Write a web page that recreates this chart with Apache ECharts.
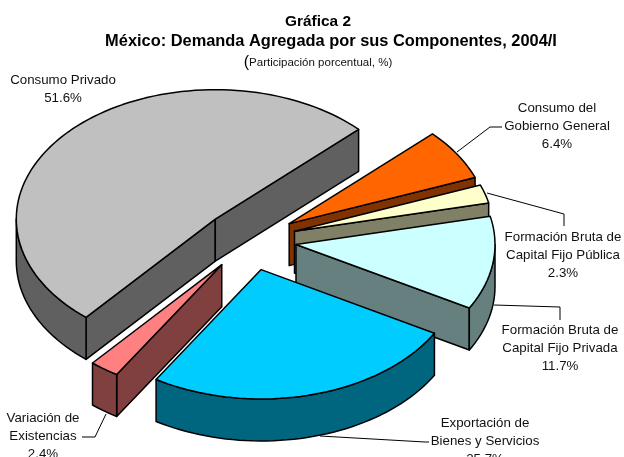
<!DOCTYPE html>
<html>
<head>
<meta charset="utf-8">
<title>Gráfica 2</title>
<style>
  html, body { margin: 0; padding: 0; background: #fff; }
  #main { width: 624px; height: 457px; }
</style>
<script src="https://cdn.jsdelivr.net/npm/echarts@6/dist/echarts.min.js"></script>
</head>
<body>
<div id="main"></div>
<script>
// datos de la grafica
var categories = ['Consumo Privado', 'Consumo del\nGobierno General', 'Formación Bruta de\nCapital Fijo Pública',
  'Formación Bruta de\nCapital Fijo Privada', 'Exportación de\nBienes y Servicios', 'Variación de\nExistencias'];
var values = [51.6, 6.4, 2.3, 11.7, 25.7, 2.4];
var topColors = ['#C0C0C0', '#FF6600', '#FFFFCC', '#CCFFFF', '#00CCFF', '#FF8080'];
var sideColors = ['#606060', '#803300', '#808066', '#668080', '#006680', '#804040'];

// posicion de etiquetas y lineas guia
var labelCenters = [[63, 71], [557, 99], [563, 228], [560, 321], [485, 414], [43, 409]];
var leaderLines = [
  null,
  [[457, 152], [490, 127], [502, 127]],
  [[487, 193], [564, 214], [564, 226]],
  [[494, 305], [560, 307], [560, 320]],
  [[320, 436], [425, 442], [429, 442]],
  [[106, 414], [95, 437], [82, 437]]
];

// geometria del pastel 3D
var centerX = 249.5, centerY = 240;
var radius = 199, squash = 0.65, depth = 42, explode = 47;
var firstAngle = 220.5;   // grados, sentido horario desde arriba

var total = values.reduce(function (a, b) { return a + b; }, 0);

function rad(deg) { return deg * Math.PI / 180; }

function point(ox, oy, angle, r, drop) {
  return [ox + r * Math.sin(rad(angle)), oy - squash * r * Math.cos(rad(angle)) + (drop || 0)];
}

function arcPoints(ox, oy, from, to, drop) {
  var pts = [];
  var n = Math.max(2, Math.ceil(Math.abs(to - from) / 2));
  for (var i = 0; i <= n; i++) {
    pts.push(point(ox, oy, from + (to - from) * i / n, radius, drop));
  }
  return pts;
}

function face(pts, fill) {
  return {
    type: 'polygon',
    shape: { points: pts },
    style: { fill: fill, stroke: '#000', lineWidth: 1.5, lineJoin: 'round' }
  };
}

function cutFace(ox, oy, angle, fill) {
  return face([[ox, oy], point(ox, oy, angle, radius), point(ox, oy, angle, radius, depth), [ox, oy + depth]], fill);
}

function renderSlice(params, api) {
  var i = params.dataIndex;
  var before = 0;
  for (var k = 0; k < i; k++) before += values[k];
  var start = firstAngle + before / total * 360;
  var end = start + api.value(1) / total * 360;
  var mid = (start + end) / 2;
  var ox = centerX + explode * Math.sin(rad(mid));
  var oy = centerY - squash * explode * Math.cos(rad(mid));
  var children = [];

  if (Math.sin(rad(start)) < 0) children.push(cutFace(ox, oy, start, sideColors[i]));
  if (Math.sin(rad(end)) > 0) children.push(cutFace(ox, oy, end, sideColors[i]));

  // pared exterior, solo la parte de enfrente (90 a 270 grados)
  [[90, 270], [450, 630]].forEach(function (w) {
    var a = Math.max(start, w[0]), b = Math.min(end, w[1]);
    if (a < b) {
      var top = arcPoints(ox, oy, a, b, 0);
      var bottom = arcPoints(ox, oy, b, a, depth);
      children.push(face(top.concat(bottom), sideColors[i]));
    }
  });

  var rim = arcPoints(ox, oy, start, end, 0);
  children.push(face([[ox, oy]].concat(rim), topColors[i]));
  return { type: 'group', children: children };
}

var graphics = [];
categories.forEach(function (name, i) {
  graphics.push({
    type: 'text',
    silent: true,
    x: labelCenters[i][0],
    y: labelCenters[i][1],
    style: {
      text: name + '\n' + values[i].toFixed(1) + '%',
      fill: '#111',
      font: '13.3px "Liberation Sans", Arial, sans-serif',
      lineHeight: 18,
      align: 'center',
      verticalAlign: 'top'
    }
  });
  if (leaderLines[i]) {
    graphics.push({
      type: 'polyline',
      silent: true,
      shape: { points: leaderLines[i] },
      style: { fill: null, stroke: '#000', lineWidth: 1 }
    });
  }
});

var chart = echarts.init(document.getElementById('main'), null, { renderer: 'canvas' });
chart.setOption({
  animation: false,
  backgroundColor: '#fff',
  title: [{
    left: 313,
    top: 9,
    textAlign: 'center',
    text: 'Gráfica 2',
    textStyle: { fontFamily: 'Liberation Sans', fontSize: 15.4, fontWeight: 'bold', color: '#000' }
  }, {
    left: 326,
    top: 28,
    textAlign: 'center',
    text: 'México: Demanda Agregada por sus Componentes, 2004/I',
    textStyle: { fontFamily: 'Liberation Sans', fontSize: 16.4, fontWeight: 'bold', color: '#000' }
  }, {
    left: 313,
    top: 48,
    textAlign: 'center',
    text: '{p|(}{b|Participación porcentual, %)}',
    textStyle: {
      fontWeight: 'normal',
      rich: {
        p: { fontFamily: 'Liberation Sans', fontSize: 16, fontWeight: 'normal', color: '#000', lineHeight: 20 },
        b: { fontFamily: 'Liberation Sans', fontSize: 11.5, fontWeight: 'normal', color: '#111', lineHeight: 20 }
      }
    }
  }],
  graphic: graphics,
  series: [{
    type: 'custom',
    coordinateSystem: 'none',
    renderItem: renderSlice,
    data: values.map(function (v, i) { return [i, v]; }),
    silent: true
  }]
});
</script>
</body>
</html>
